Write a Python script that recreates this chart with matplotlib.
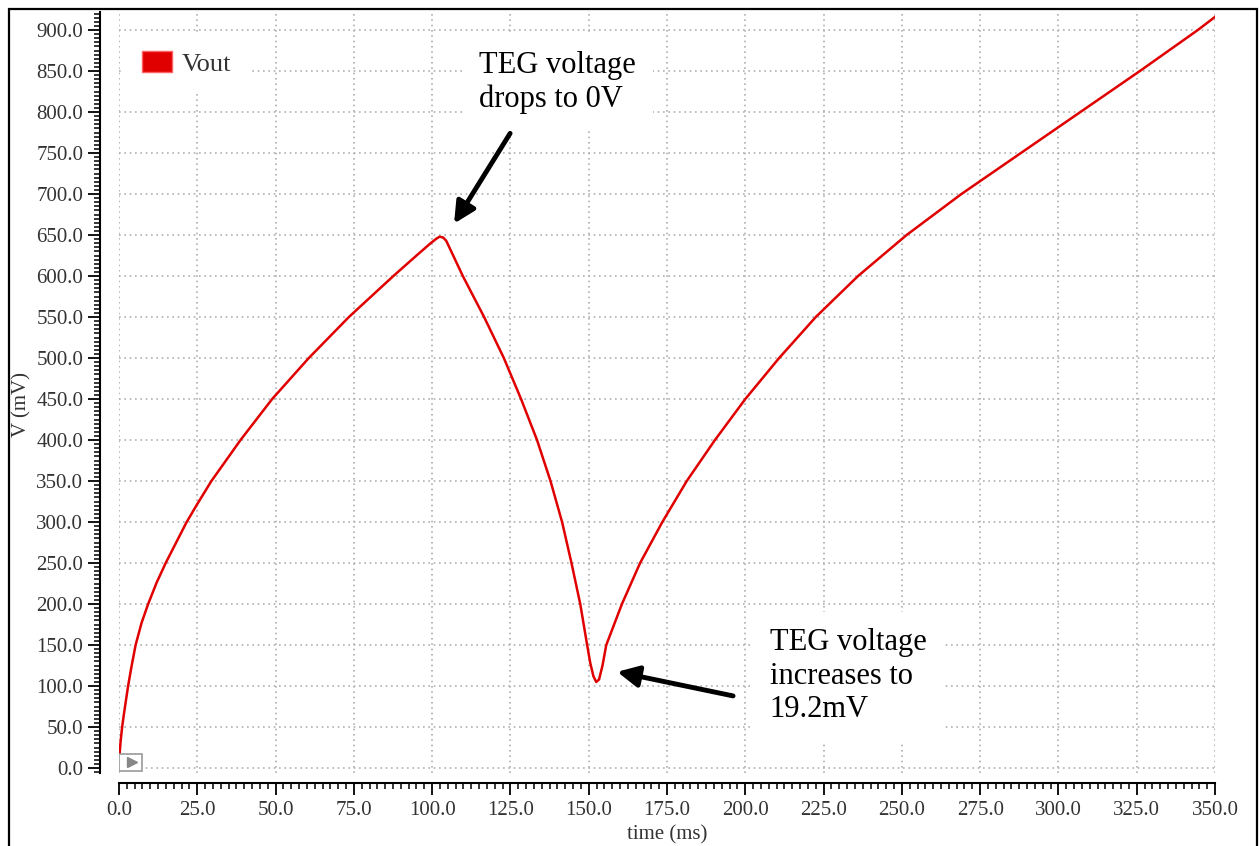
import numpy as np
import pandas as pd
import matplotlib
matplotlib.use('Agg')
import matplotlib.pyplot as plt
from matplotlib.patches import Patch, Rectangle
from matplotlib.ticker import MultipleLocator, FormatStrFormatter

# Vout transient
t_ms = [0, 0.25, 0.5, 1, 1.5, 2, 2.9, 4, 5.3, 7.2, 9.3, 12, 14.9, 21.6, 25, 29.5, 38.8,
        48.9, 60.6, 73.4, 87.6, 95, 99.5, 101.5, 102.4, 103.5, 104.5, 109.8, 116.6,
        122.9, 128.4, 133.5, 137.8, 141.5, 144.5, 147.3, 149.5, 150.5, 151.5,
        152.4, 153.3, 154.4, 155.6, 160.6, 166.4, 173.5, 181.3, 190.3, 200, 210.8,
        222.5, 236, 251.5, 269, 288, 307, 326, 344.5, 350]
v_mV = [3, 20, 32, 50, 64, 77, 100, 124, 150, 177, 200, 226, 250, 300, 322, 350, 400,
        450, 500, 550, 600, 625, 640, 646, 648, 647, 643, 600, 550,
        500, 450, 400, 350, 300, 250, 200, 150, 128, 112,
        105, 108, 125, 150, 200, 250, 300, 350, 400, 450, 500,
        550, 600, 650, 700, 750, 800, 850, 900, 916]

df = pd.DataFrame({'Vout': v_mV}, index=t_ms)

plt.rcParams['font.family'] = ['Liberation Serif', 'DejaVu Serif']

fig = plt.figure(figsize=(12.59, 8.46), dpi=100)
ax = fig.add_axes([119/1259, 1-773/846, (1215-119)/1259, (773-12)/846])

ax.plot(df.index, df['Vout'], color='#e00000', lw=1.8)

ax.set_xlim(0, 350)
ax.set_ylim(-6, 922)
ax.xaxis.set_major_locator(MultipleLocator(25))
ax.xaxis.set_minor_locator(MultipleLocator(2.5))
ax.yaxis.set_major_locator(MultipleLocator(50))
ax.yaxis.set_minor_locator(MultipleLocator(5))
ax.xaxis.set_major_formatter(FormatStrFormatter('%.1f'))
ax.yaxis.set_major_formatter(FormatStrFormatter('%.1f'))

for s in ['top', 'right']:
    ax.spines[s].set_visible(False)
ax.spines['left'].set_position(('outward', 13.7))
ax.spines['bottom'].set_position(('outward', 7.2))
ax.spines['left'].set_linewidth(1.5)
ax.spines['bottom'].set_linewidth(1.5)

ax.tick_params(which='major', length=8.5, width=1.3, labelsize=15,
               labelcolor='#333333', direction='out')
ax.tick_params(which='minor', length=4.5, width=1.1, direction='out')
ax.tick_params(axis='y', pad=3.5)
ax.tick_params(axis='x', pad=4.5)
ax.grid(True, which='major', color='#b0b0b0', linestyle=(0, (1, 2.2)), lw=1.2)
ax.set_axisbelow(True)

ax.set_xlabel('time (ms)', fontsize=15, color='#333333')
ax.set_ylabel('V (mV)', fontsize=15, color='#333333')
ax.xaxis.set_label_coords(0.5, -0.068)
ax.yaxis.set_label_coords(-0.08, 0.484)

leg = ax.legend(handles=[Patch(facecolor='#e00000', edgecolor='#ff6060', label='Vout')],
                loc='upper left', bbox_to_anchor=(-0.008, 0.99), fontsize=19,
                frameon=True, framealpha=1, facecolor='white', edgecolor='none',
                fancybox=False, handlelength=1.15, handleheight=0.85,
                handletextpad=0.35, borderpad=0.7)
for txt in leg.get_texts():
    txt.set_color('#333333')

# annotations
box = dict(facecolor='white', edgecolor='none', pad=12)
ax.text(115, 806, 'TEG voltage\ndrops to 0V', fontsize=22, va='baseline', bbox=box)
ax.text(207.8, 62, 'TEG voltage\nincreases to\n19.2mV', fontsize=22, va='baseline', bbox=box)
arrow = dict(arrowstyle='-|>', lw=3.5, color='black', mutation_scale=32, shrinkA=0, shrinkB=0)
ax.annotate('', xy=(107, 664), xytext=(124.9, 774), arrowprops=arrow)
ax.annotate('', xy=(159.1, 117.4), xytext=(196.1, 88), arrowprops=arrow)

# little marker button in the corner
ax.add_patch(Rectangle((0.0, 0.003), 0.021, 0.022, transform=ax.transAxes,
                       facecolor='white', edgecolor='#999999', lw=1.2, zorder=5))
ax.plot([0.0115], [0.014], marker='>', ms=7, color='#888888', transform=ax.transAxes, zorder=6)

# outer frame
fig.patches.append(Rectangle((9/1259, -0.02), 1248/1259, 1.02 - 9/846, transform=fig.transFigure,
                             fill=False, edgecolor='black', lw=1.6))

fig.savefig('out.png', dpi=100)
